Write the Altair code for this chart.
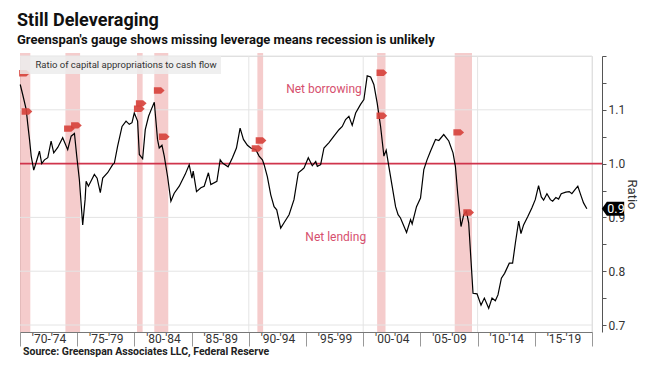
import json
import altair as alt
import pandas as pd

# ---------------- data ----------------
years = [1970.02, 1970.24, 1970.54, 1970.68, 1970.83, 1970.98, 1971.20, 1971.41, 1971.70, 1971.90,
         1972.14, 1972.43, 1972.72, 1972.95, 1973.30, 1973.73, 1974.17, 1974.47, 1974.76, 1974.96,
         1975.19, 1975.48, 1975.69, 1975.78, 1975.98, 1976.50, 1976.74, 1977.02, 1977.23, 1977.66,
         1978.10, 1978.25, 1978.53, 1978.92, 1979.27, 1979.55, 1979.79, 1979.99, 1980.28, 1980.43,
         1980.72, 1980.95, 1981.24, 1981.54, 1981.74, 1982.02, 1982.17, 1982.41, 1982.61, 1982.90,
         1983.19, 1983.48, 1983.92, 1984.44, 1984.79, 1985.03, 1985.14, 1985.43, 1985.81, 1986.10,
         1986.47, 1986.68, 1987.21, 1987.50, 1987.70, 1988.19, 1988.57, 1988.92, 1989.24, 1989.53,
         1989.88, 1990.17, 1990.61, 1990.90, 1991.19, 1991.34, 1991.62, 1991.92, 1992.21, 1992.44,
         1992.79, 1993.08, 1993.52, 1993.95, 1994.33, 1994.68, 1994.83, 1995.20, 1995.55, 1995.85,
         1995.99, 1996.28, 1996.57, 1997.01, 1997.44, 1997.88, 1998.17, 1998.46, 1998.75, 1999.04,
         1999.34, 1999.77, 2000.06, 2000.35, 2000.65, 2000.93, 2001.22, 2001.52, 2001.81, 2002.01,
         2002.24, 2002.53, 2002.83, 2003.05, 2003.26, 2003.79, 2004.14, 2004.28, 2004.66, 2005.01,
         2005.30, 2005.58, 2005.88, 2006.32, 2006.61, 2007.04, 2007.48, 2007.85, 2008.06, 2008.26,
         2008.55, 2008.79, 2009.02, 2009.22, 2009.42, 2009.60, 2009.95, 2010.30, 2010.59, 2010.97,
         2011.26, 2011.55, 2011.78, 2012.08, 2012.36, 2012.77, 2013.06, 2013.30, 2013.59, 2013.79,
         2014.02, 2014.40, 2014.75, 2015.04, 2015.33, 2015.57, 2015.77, 2016.06, 2016.36, 2016.56,
         2016.84, 2017.08, 2017.31, 2017.71, 2018.01, 2018.24, 2018.53, 2018.76, 2019.06, 2019.26,
         2019.55]
ratio = [1.147, 1.128, 1.101, 1.073, 1.045, 1.014, 0.988, 1.002, 1.023, 1.000,
         1.007, 1.011, 1.042, 1.020, 1.030, 1.048, 1.026, 1.051, 1.056, 1.014,
         0.970, 0.886, 0.933, 0.967, 0.958, 0.980, 0.973, 0.946, 0.973, 0.983,
         0.998, 1.001, 1.032, 1.069, 1.079, 1.073, 1.076, 1.094, 1.079, 1.017,
         1.009, 1.063, 1.088, 1.104, 1.114, 1.045, 1.029, 1.034, 1.014, 0.976,
         0.930, 0.945, 0.958, 0.980, 0.998, 0.973, 0.986, 0.948, 0.955, 0.958,
         0.983, 0.961, 0.967, 1.007, 1.001, 0.994, 1.011, 1.029, 1.066, 1.045,
         1.034, 1.029, 1.026, 1.014, 1.007, 0.998, 0.976, 0.942, 0.920, 0.914,
         0.880, 0.890, 0.905, 0.933, 0.983, 0.989, 0.992, 1.011, 0.996, 1.004,
         0.995, 0.998, 1.029, 1.039, 1.051, 1.063, 1.069, 1.082, 1.088, 1.071,
         1.094, 1.110, 1.119, 1.163, 1.161, 1.147, 1.113, 1.069, 1.014, 1.025,
         0.995, 0.958, 0.920, 0.905, 0.899, 0.872, 0.896, 0.888, 0.920, 0.936,
         0.989, 1.007, 1.023, 1.045, 1.043, 1.054, 1.042, 1.020, 0.995, 0.945,
         0.883, 0.905, 0.911, 0.890, 0.821, 0.759, 0.758, 0.737, 0.750, 0.731,
         0.750, 0.745, 0.756, 0.787, 0.796, 0.815, 0.815, 0.852, 0.893, 0.870,
         0.886, 0.902, 0.918, 0.933, 0.959, 0.938, 0.932, 0.944, 0.933, 0.930,
         0.937, 0.934, 0.944, 0.947, 0.948, 0.944, 0.952, 0.958, 0.939, 0.927,
         0.916]

series_name = ["Ratio of capital appropriations to cash flow"]

rec_start = [1970.0, 1973.97, 1980.23, 1981.74, 1990.75, 2001.22, 2008.0]
rec_end = [1970.9, 1975.25, 1980.72, 1982.96, 1991.25, 2001.95, 2009.51]

marker_year = [1970.39, 1970.61, 1974.32, 1974.93, 1980.43, 1980.60, 1982.17,
               1982.61, 1991.07, 1990.72, 2001.63, 2001.63, 2008.35, 2009.22]
marker_value = [1.168, 1.097, 1.065, 1.071, 1.102, 1.112, 1.136,
                1.050, 1.043, 1.028, 1.169, 1.089, 1.058, 0.909]

grid_years = [1990, 2000, 2010, 2020]
grid_values = [0.7, 0.8, 0.9, 1.1, 1.2]
x_tick_years = [1970, 1975, 1980, 1985, 1990, 1995, 2000, 2005, 2010, 2015, 2020]
period_labels = ["'70-'74", "'75-'79", "'80-'84", "'85-'89", "'90-'94",
                 "'95-'99", "'00-'04", "'05-'09", "'10-'14", "'15-'19"]
y_tick_values = [0.7, 0.75, 0.8, 0.85, 0.9, 0.95, 1.0, 1.05, 1.1, 1.15, 1.2]

annot_text = ["Net borrowing", "Net lending"]
annot_year = [1996.57, 1997.6]
annot_value = [1.138, 0.863]

# ---------------- styling ----------------
FONT = "Roboto"
W, H = 572, 276
X_DOM = [1970, 2020]
Y_DOM = [0.687, 1.2]
xs = alt.Scale(domain=X_DOM, nice=False, zero=False)
ys = alt.Scale(domain=Y_DOM, nice=False, zero=False)

line_df = pd.DataFrame({"year": years, "ratio": ratio, "series": series_name * len(years)})
band_df = pd.DataFrame({"year": rec_start, "end": rec_end})
marker_df = pd.DataFrame({"year": marker_year, "ratio": marker_value})
vgrid_df = pd.DataFrame({"year": grid_years})
hgrid_df = pd.DataFrame({"ratio": grid_values})
annot_df = pd.DataFrame({"text": annot_text, "year": annot_year, "ratio": annot_value})
last_df = pd.DataFrame({"ratio": [ratio[-1]], "label": [f"{ratio[-1]:.1f}"]})
one_df = pd.DataFrame({"ratio": [1.0]})
src_df = pd.DataFrame({"text": ["Source: Greenspan Associates LLC, Federal Reserve"]})

label_expr = json.dumps(period_labels + [""]) + "[round((datum.value - 1970) / 5)]"
x_axis = alt.Axis(values=x_tick_years, labelExpr=label_expr, grid=False, tickSize=14,
                  tickColor="#999", domainColor="#777", labelOffset=W / 20, labelPadding=-8,
                  labelFlush=False, labelOverlap=False, labelAlign="center",
                  labelBaseline="middle", labelFont=FONT, labelFontSize=12,
                  labelColor="#333", title=None)
y_axis = alt.Axis(orient="right", values=y_tick_values, offset=10, grid=False,
                  labelExpr="abs(datum.value * 10 - round(datum.value * 10)) < 0.001 && "
                            "datum.value < 1.15 ? format(datum.value, '.1f') : ''",
                  labelFlush=False, labelOverlap=False,
                  tickSize=4, tickColor="#555", domainColor="#555", labelFont=FONT,
                  labelFontSize=12, labelColor="#333", labelPadding=2,
                  title="Ratio", titleFont=FONT, titleFontSize=13, titleFontWeight="normal",
                  titleColor="#333", titleAngle=90, titleBaseline="middle",
                  titleAlign="center", titleX=29, titleY=H / 2)


def X(field="year"):
    return alt.X(f"{field}:Q", scale=xs, axis=x_axis)


def Y(field="ratio"):
    return alt.Y(f"{field}:Q", scale=ys, axis=y_axis)


bands = alt.Chart(band_df).mark_rect(color="#eb9a9a", opacity=0.5).encode(
    x=X(), x2="end:Q", y=alt.value(-3), y2=alt.value(H))

vgrid = alt.Chart(vgrid_df).mark_rule(color="#e4e4e4", strokeWidth=1).encode(x=X())
hgrid = alt.Chart(hgrid_df).mark_rule(color="#e4e4e4", strokeWidth=1).encode(y=Y())

ref_rule = alt.Chart(one_df).mark_rule(color="#d0344c", strokeWidth=1.6).encode(
    y=Y(), x=alt.value(0), x2=alt.value(W + 10))

line = alt.Chart(line_df).mark_line(color="black", strokeWidth=1.2).encode(
    x=X(), y=Y(),
    color=alt.Color("series:N", scale=alt.Scale(range=["black"]),
                    legend=alt.Legend(orient="top-left", title=None, offset=0,
                                      symbolType="square", symbolSize=45,
                                      symbolStrokeWidth=0, labelFont=FONT,
                                      labelFontSize=9.5, labelColor="#333",
                                      labelLimit=0,
                                      fillColor="rgba(236,236,236,0.85)",
                                      padding=4, labelOffset=2)))

marker_shape = "M-1,-0.6 L0.35,-0.6 L1,0 L0.35,0.6 L-1,0.6 Z"
markers = alt.Chart(marker_df).mark_point(shape=marker_shape, filled=True, size=115,
                                          color="#d6403a", opacity=0.9).encode(x=X(), y=Y())

annots = alt.Chart(annot_df).mark_text(font=FONT, fontSize=12, color="#d64f6e").encode(
    x=X(), y=Y(), text="text:N")

tag_shape = "M-1,0 L-0.55,-0.62 L1,-0.62 L1,0.62 L-0.55,0.62 Z"
tag = alt.Chart(last_df).mark_point(shape=tag_shape, filled=True, size=500,
                                    color="black", opacity=1).encode(
    x=alt.value(W + 21), y=Y())
tag_text = alt.Chart(last_df).mark_text(font=FONT, fontSize=12.5, color="white").encode(
    x=alt.value(W + 24), y=Y(), text="label:N")

source = alt.Chart(src_df).mark_text(font=FONT, fontSize=10.5, fontWeight="bold",
                                     color="#222", align="left", baseline="middle").encode(
    x=alt.value(3), y=alt.value(H + 20), text="text:N")

chart = alt.layer(bands, vgrid, hgrid, ref_rule, line, markers, annots, tag, tag_text,
                  source).properties(
    width=W, height=H,
    padding={"left": 12, "top": 48, "right": 48, "bottom": 26},
    autosize=alt.AutoSizeParams(type="none"),
    title=alt.TitleParams(text="Still Deleveraging",
                          subtitle="Greenspan's gauge shows missing leverage means recession is unlikely",
                          anchor="start", frame="group", font=FONT, fontSize=18,
                          fontWeight="bold", color="#111", subtitleFont=FONT,
                          subtitleFontSize=13, subtitleFontWeight="bold",
                          subtitleColor="#111", subtitlePadding=4, offset=3, dx=-3)
).configure_view(stroke=None).configure(background="white")

chart.save("out.html", embed_options={"renderer": "svg", "actions": False})
